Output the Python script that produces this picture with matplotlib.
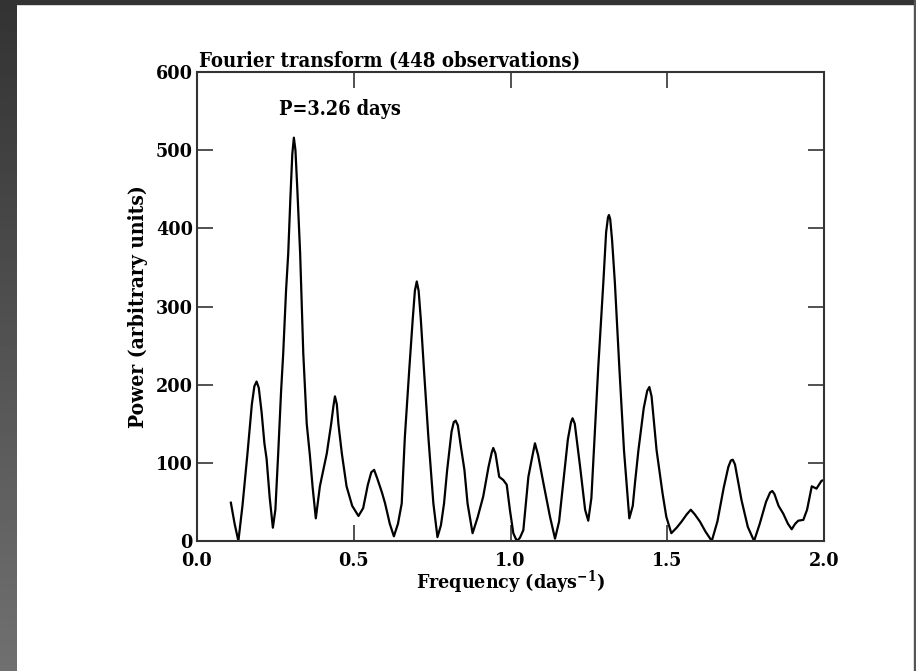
import numpy as np
import matplotlib
matplotlib.use("Agg")
import matplotlib.pyplot as plt

# valores (frecuencia en dias^-1, potencia)
frecuencia = [0.108, 0.120, 0.132, 0.145, 0.161, 0.175, 0.183, 0.190, 0.197, 0.206,
              0.215, 0.222, 0.232, 0.242, 0.250, 0.259, 0.268, 0.275, 0.284, 0.291,
              0.298, 0.304, 0.309, 0.314, 0.320, 0.329, 0.339, 0.350, 0.360, 0.369,
              0.379, 0.392, 0.414, 0.428, 0.435, 0.440, 0.446, 0.451, 0.462, 0.477,
              0.495, 0.515, 0.530, 0.545, 0.556, 0.565, 0.575, 0.590, 0.600, 0.615,
              0.628, 0.641, 0.653, 0.663, 0.677, 0.688, 0.695, 0.701, 0.707, 0.714,
              0.724, 0.738, 0.754, 0.767, 0.778, 0.788, 0.798, 0.812, 0.819, 0.825,
              0.832, 0.842, 0.853, 0.863, 0.879, 0.895, 0.913, 0.930, 0.940, 0.945,
              0.952, 0.964, 0.977, 0.988, 0.998, 1.009, 1.020, 1.030, 1.041, 1.057,
              1.068, 1.078, 1.088, 1.105, 1.126, 1.142, 1.155, 1.168, 1.183, 1.193,
              1.198, 1.205, 1.222, 1.238, 1.248, 1.258, 1.266, 1.280, 1.296, 1.305,
              1.311, 1.314, 1.318, 1.324, 1.333, 1.347, 1.362, 1.379, 1.390, 1.397,
              1.408, 1.425, 1.436, 1.443, 1.450, 1.466, 1.485, 1.497, 1.513, 1.530,
              1.546, 1.562, 1.575, 1.588, 1.604, 1.622, 1.642, 1.660, 1.680, 1.695,
              1.703, 1.709, 1.716, 1.737, 1.757, 1.777, 1.795, 1.815, 1.828, 1.835,
              1.842, 1.855, 1.870, 1.885, 1.897, 1.908, 1.918, 1.934, 1.946, 1.961,
              1.976, 1.992, 2.000]
potencia = [49, 22, 0, 45, 112, 175, 198, 204, 196, 165,
            125, 105, 55, 17, 40, 112, 190, 240, 320, 368,
            440, 495, 516, 500, 450, 368, 240, 150, 110, 68,
            29, 70, 112, 150, 172, 185, 175, 150, 112, 70,
            45, 32, 42, 72, 88, 91, 80, 62, 48, 22,
            6, 22, 48, 133, 219, 283, 320, 332, 320, 283,
            219, 133, 48, 5, 20, 48, 91, 140, 152, 154,
            148, 120, 91, 48, 10, 30, 57, 95, 113, 119,
            112, 82, 78, 72, 40, 10, 0, 4, 14, 82,
            105, 125, 110, 74, 31, 3, 25, 74, 130, 152,
            157, 150, 95, 40, 26, 55, 116, 223, 330, 395,
            414, 417, 412, 385, 330, 223, 116, 29, 45, 74,
            116, 170, 192, 197, 185, 116, 61, 31, 10, 17,
            25, 34, 40, 34, 25, 12, 0, 25, 68, 95,
            103, 104, 98, 52, 18, 0, 22, 50, 62, 64,
            60, 45, 35, 22, 15, 22, 26, 27, 40, 70,
            67, 77, 78]

ticks_x = [0.0, 0.5, 1.0, 1.5, 2.0]
ticks_y = [0, 100, 200, 300, 400, 500, 600]

plt.rcParams['font.family'] = ['DejaVu Serif']
plt.rcParams['font.weight'] = 'bold'
plt.rcParams['font.stretch'] = 'condensed'
plt.rcParams['mathtext.fontset'] = 'dejavuserif'

fig = plt.figure(figsize=(9.16, 6.71), dpi=100)
fig.patch.set_facecolor('white')

# marco oscuro (izquierda con degradado, arriba y derecha)
marco = fig.add_axes([0, 0, 17 / 916, 1])
degradado = np.linspace(0.20, 0.44, 256).reshape(-1, 1)
marco.imshow(degradado, cmap='gray', vmin=0, vmax=1, aspect='auto', extent=[0, 1, 0, 1], origin='upper')
marco.set_axis_off()
fig.patches.append(plt.Rectangle((0, 1 - 4 / 671), 1, 4 / 671, transform=fig.transFigure,
                                 color='#333333', zorder=0))
fig.patches.append(plt.Rectangle((914 / 916, 0), 2 / 916, 1, transform=fig.transFigure,
                                 color='#555555', zorder=0))

ax = fig.add_axes([197 / 916, 130 / 671, 627 / 916, 469 / 671])
ax.plot(frecuencia, potencia, color='black', lw=1.6)

ax.set_xlim(0, 2)
ax.set_ylim(0, 600)
ax.set_xticks(ticks_x)
ax.set_xticklabels(['%.1f' % t for t in ticks_x])
ax.set_yticks(ticks_y)
ax.tick_params(direction='in', length=11.5, width=1.1, top=True, right=True,
               labelsize=14, color='#222222')
ax.tick_params(axis='x', pad=8)
ax.tick_params(axis='y', pad=3)
for lado in ax.spines.values():
    lado.set_linewidth(1.5)
    lado.set_color('#333333')

ax.set_xlabel('Frequency (days$^{-1}$)', fontsize=14, fontweight='bold', labelpad=-1)
ax.set_ylabel('Power (arbitrary units)', fontsize=15, fontweight='bold', labelpad=6)
ax.text(0.003, 1.0107, 'Fourier transform (448 observations)', transform=ax.transAxes,
        ha='left', va='baseline', fontsize=14.6, fontweight='bold')
ax.text(0.262, 545, 'P=3.26 days', ha='left', va='baseline', fontsize=14.2, fontweight='bold')

plt.savefig('out.png', dpi=100)
